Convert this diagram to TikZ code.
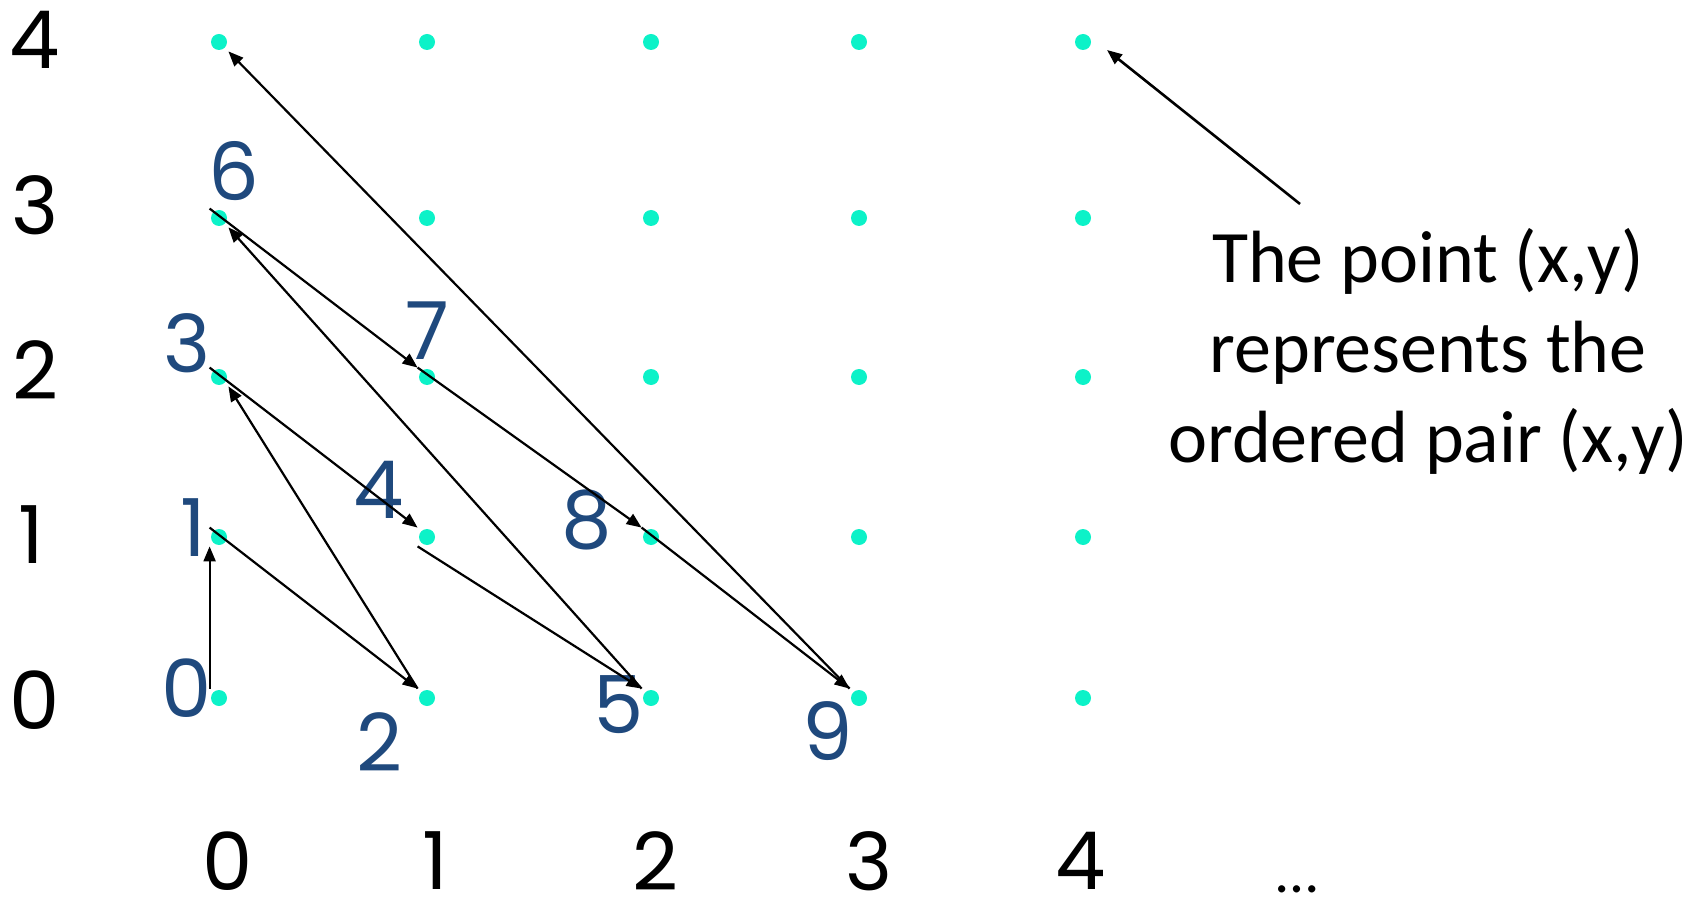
\documentclass[tikz,border=0pt]{standalone}
\usepackage{fontspec}
\setmainfont{Carlito}
\newfontfamily\digitfont{Poppins}
\usetikzlibrary{arrows.meta}
\definecolor{dotc}{RGB}{12,242,200}
\definecolor{numblue}{RGB}{31,73,125}
\tikzset{
  dot/.style={rectangle, minimum size=9pt, inner sep=0pt,
    path picture={\fill[dotc] (path picture bounding box.center) circle (4pt);}},
  axislbl/.style={inner sep=0pt, font=\digitfont\fontsize{40}{48}\selectfont, text=black},
  numlbl/.style={inner sep=0pt, font=\digitfont\fontsize{40}{48}\selectfont, text=numblue},
  txt/.style={inner sep=0pt, anchor=base, font=\fontsize{37}{44}\selectfont},
  arr/.style={line width=1.1pt, -{Triangle[length=7.5pt,width=6pt]}},
}
\begin{document}
\begin{tikzpicture}[x={(0.5pt,0)}, y={(0,-0.5pt)}]
\useasboundingbox (0,0) rectangle (1706,898);
% dots
\foreach \i/\xx in {0/219,1/427,2/651,3/859,4/1083}{
  \foreach \j/\yy in {0/698,1/537,2/377,3/218,4/42}{
    \node[dot] (d\i\j) at (\xx,\yy) {};
  }
}
% left axis labels
\node[axislbl] (ly4) at (35,40) {4};
\node[axislbl] (ly3) at (35,205) {3};
\node[axislbl] (ly2) at (35,370) {2};
\node[axislbl] (ly1) at (31,535) {1};
\node[axislbl] (ly0) at (35,700) {0};
% bottom axis labels
\node[axislbl] (lx0) at (228,861) {0};
\node[axislbl] (lx1) at (435,861) {1};
\node[axislbl] (lx2) at (655,861) {2};
\node[axislbl] (lx3) at (869,861) {3};
\node[axislbl] (lx4) at (1081,861) {4};
\node[inner sep=0pt, anchor=base, font=\fontsize{30}{36}\selectfont] (ldots) at (1297,892) {\dots};
% blue numbering
\node[numlbl] (n0) at (187,688) {0};
\node[numlbl] (n1) at (193,528) {1};
\node[numlbl] (n2) at (379,742) {2};
\node[numlbl] (n3) at (187,343) {3};
\node[numlbl] (n4) at (379,490) {4};
\node[numlbl] (n5) at (619,705) {5};
\node[numlbl] (n6) at (234,171) {6};
\node[numlbl] (n7) at (427,331) {7};
\node[numlbl] (n8) at (587,520) {8};
\node[numlbl] (n9) at (828,731) {9};
% path arrows
\draw[arr] (d00.north west) -- (d01.south west);
\draw[arr] (d01.north west) -- (d10.north west);
\draw[arr] (d10.north west) -- (d02.south east);
\draw[arr] (d02.north west) -- (d11.north west);
\draw[arr] (d11.south west) -- (d20.north west);
\draw[arr] (d20.north west) -- (d03.south east);
\draw[arr] (d03.north west) -- (d12.north west);
\draw[arr] (d12.north west) -- (d21.north west);
\draw[arr] (d21.north west) -- (d30.north west);
\draw[arr] (d30.north west) -- (d04.south east);
% annotation
\node[txt] (t1) at (1428,283) {The point (x,y)};
\node[txt] (t2) at (1428,372) {represents the};
\node[txt] (t3) at (1428,462) {ordered pair (x,y)};
\coordinate (anntail) at (1300,204);
\draw[arr, line width=1.3pt] (anntail) -- ([shift={(24,8)}]d44.center);
\end{tikzpicture}
\end{document}
